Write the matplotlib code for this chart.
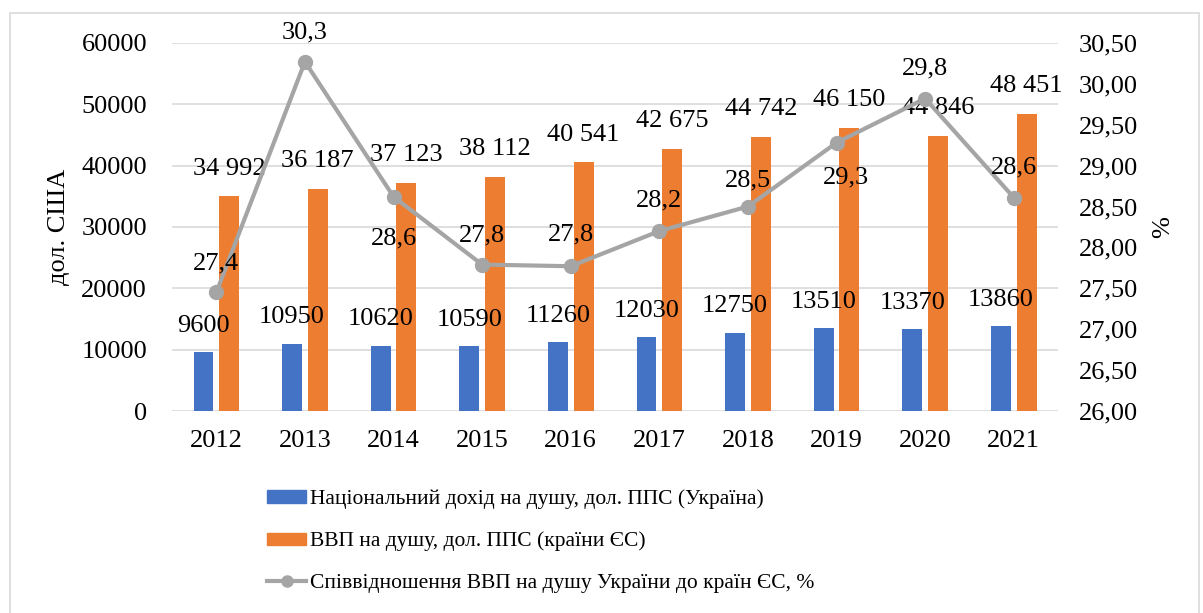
import matplotlib.pyplot as plt
import matplotlib.patches as patches
from matplotlib.lines import Line2D
from matplotlib.ticker import FuncFormatter
import numpy as np

plt.rcParams['font.family'] = ['Liberation Serif', 'DejaVu Serif']

years = ['2012', '2013', '2014', '2015', '2016', '2017', '2018', '2019', '2020', '2021']
income_ua = [9600, 10950, 10620, 10590, 11260, 12030, 12750, 13510, 13370, 13860]
gdp_eu = [34992, 36187, 37123, 38112, 40541, 42675, 44742, 46150, 44846, 48451]
ratio = [27.45, 30.27, 28.62, 27.79, 27.77, 28.2, 28.5, 29.28, 29.82, 28.61]
ratio_labels = ['27,4', '30,3', '28,6', '27,8', '27,8', '28,2', '28,5', '29,3', '29,8', '28,6']

names = ['Національний дохід на душу, дол. ППС (Україна)',
         'ВВП на душу, дол. ППС (країни ЄС)',
         'Співвідношення ВВП на душу України до країн ЄС, %']

blue = '#4472C4'
orange = '#ED7D31'
grey = '#A5A5A5'

# label offsets for the ratio line (points)
ratio_off = [(0, 21), (0, 21), (0, -30), (0, 21), (0, 23), (0, 22), (0, 19), (7, -25), (0, 22), (0, 22)]


def thousands(v):
    return '{:,}'.format(v).replace(',', ' ')


fig = plt.figure(figsize=(12.03, 6.13), dpi=100)
fig.patches.append(patches.Rectangle((10 / 1203, -0.01), 1189 / 1203, 1 - 13 / 613 + 0.01,
                                     transform=fig.transFigure, fill=False,
                                     edgecolor='#D9D9D9', lw=1.2))

ax = fig.add_axes([0.143, 0.3295, 0.7365, 0.6005])
x = np.arange(len(years))
w = 0.225
b1 = ax.bar(x - 0.145, income_ua, w, color=blue, zorder=2)
b2 = ax.bar(x + 0.145, gdp_eu, w, color=orange, zorder=2)

ax.set_ylim(0, 60000)
ax.set_xlim(-0.5, len(years) - 0.5)
ax.set_yticks(range(0, 60001, 10000))
ax.set_xticks(x)
ax.set_xticklabels(years)
ax.yaxis.grid(True, color='#D9D9D9', lw=1.2, zorder=0)
ax.set_axisbelow(True)
for s in ax.spines.values():
    s.set_visible(False)
ax.tick_params(length=0, labelsize=19)
ax.tick_params(axis='y', pad=18)
ax.tick_params(axis='x', pad=14)
ax.set_ylabel('дол. США', fontsize=19, labelpad=8)

for i in range(len(years)):
    ax.annotate(str(income_ua[i]), (x[i] - 0.145, income_ua[i]), xytext=(0, 19),
                textcoords='offset points', ha='center', va='center', fontsize=19)
    ax.annotate(thousands(gdp_eu[i]), (x[i] + 0.145, gdp_eu[i]), xytext=(0, 20),
                textcoords='offset points', ha='center', va='center', fontsize=19)

ax2 = ax.twinx()
ax2.plot(x, ratio, color=grey, lw=3, marker='o', ms=10, zorder=3)
ax2.set_ylim(26, 30.5)
ax2.set_yticks(np.arange(26, 30.51, 0.5))
ax2.yaxis.set_major_formatter(FuncFormatter(lambda v, p: ('%.2f' % v).replace('.', ',')))
for s in ax2.spines.values():
    s.set_visible(False)
ax2.tick_params(length=0, labelsize=19, pad=15)
ax2.set_ylabel('%', fontsize=19, labelpad=10)

for i in range(len(years)):
    ax2.annotate(ratio_labels[i], (x[i], ratio[i]), xytext=ratio_off[i],
                 textcoords='offset points', ha='center', va='center', fontsize=19)

handles = [patches.Patch(color=blue), patches.Patch(color=orange),
           Line2D([], [], color=grey, lw=3, marker='o', ms=8)]
fig.legend(handles, names, loc='upper left', bbox_to_anchor=(248 / 1203, 1 - 470 / 613),
           frameon=False, fontsize=15.5, handlelength=1.8, handleheight=0.5,
           handletextpad=0.2, labelspacing=1.05)

fig.savefig('out.png', dpi=100)
